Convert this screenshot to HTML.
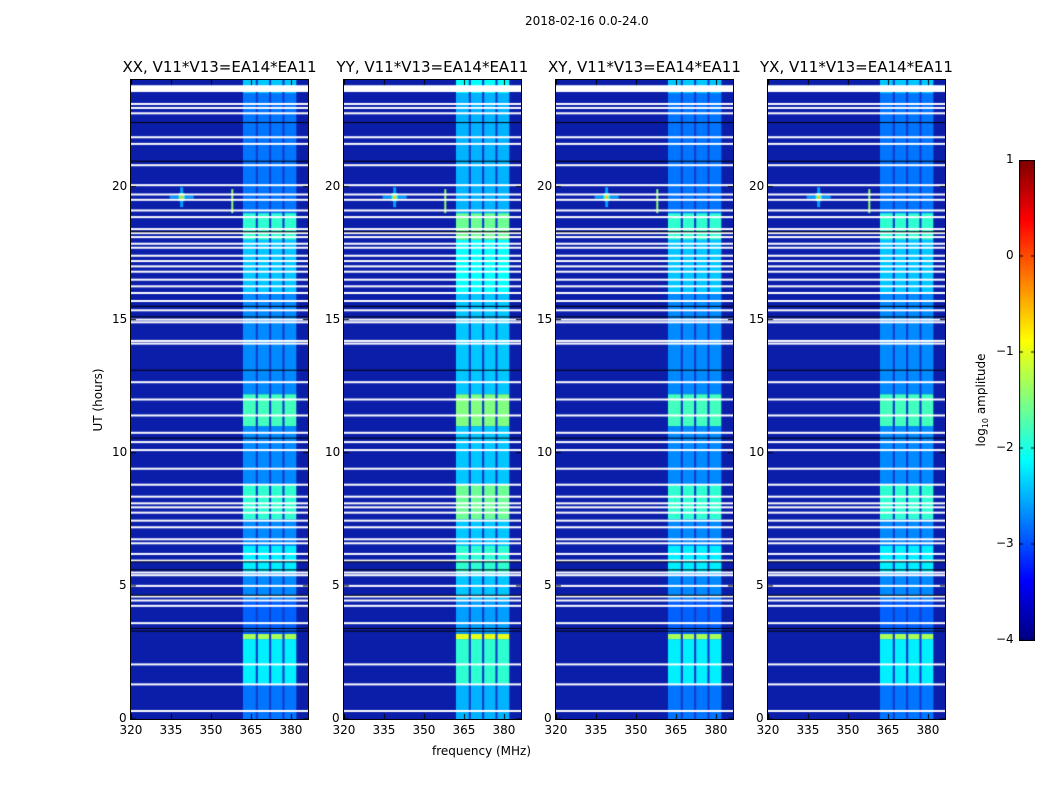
<!DOCTYPE html>
<html><head><meta charset="utf-8">
<style>
body{margin:0;background:#fff;width:1050px;height:800px;overflow:hidden;font-family:"DejaVu Sans","Liberation Sans",sans-serif;}
#root{position:relative;width:1050px;height:800px;}
.t{position:absolute;white-space:nowrap;color:#000;}
</style></head>
<body><div id="root">
<div class="t" style="left:525px;top:14px;font-size:12px;">2018-02-16 0.0-24.0</div>
<div class="t" style="left:432px;top:744px;font-size:12px;">frequency (MHz)</div>
<div class="t" style="left:98px;top:400px;font-size:12px;transform:translate(-50%,-50%) rotate(-90deg);">UT (hours)</div>
<div class="t" style="left:982px;top:400px;font-size:12px;transform:translate(-50%,-50%) rotate(-90deg);">log<sub style="font-size:8px">10</sub> amplitude</div>
<canvas id="cb" width="16" height="481" style="position:absolute;left:1019px;top:160px;"></canvas>
</div>
<script>
// ---- data ----
const panelTitles=["XX, V11*V13=EA14*EA11","YY, V11*V13=EA14*EA11","XY, V11*V13=EA14*EA11","YX, V11*V13=EA14*EA11"];
const panelOffsets=[0,0.3,0,0];
const xTicks=[320,335,350,365,380];
const yTicks=[0,5,10,15,20];
const cbTicks=[1,0,-1,-2,-3,-4];
const bandStarts=[362,367.6,372.6,377.6];
const bandEnds=[366.8,371.8,376.8,382];
const blockStarts=[0,1.3,3.0,3.2,4.5,5.5,6.5,7.5,8.8,11,12.2,15,16,18,19,23.5];
const blockEnds=[1.3,3.0,3.2,4.5,5.5,6.5,7.5,8.8,11,12.2,15,16,18,19,23.5,24];
const blockLevels=[-2.8,-2.2,-1.3,-2.9,-2.7,-2.2,-2.7,-1.9,-2.7,-1.8,-2.7,-2.7,-2.4,-1.9,-2.8,-2.4];
const whiteHours=[23.75,23.68,23.1,22.95,22.75,21.85,21.6,20.8,20.05,19.7,19.5,19.1,18.85,18.4,18.25,18.1,17.85,17.7,17.4,17.2,17.0,16.8,16.5,16.25,16.0,15.7,15.35,15.0,14.9,14.2,14.1,12.65,12.0,11.4,10.75,10.4,10.1,9.4,8.8,8.35,8.1,7.95,7.75,7.45,7.2,6.75,6.6,6.2,5.95,5.5,5.4,5.0,4.6,4.45,4.25,3.6,2.05,1.3,0.3];
const blackHours=[22.4,20.95,18.3,15.5,15.1,13.1,10.55,5.9,5.6,4.65,3.4,3.3];
const srcFreq=339, srcHour=19.6, lineFreq=358, lineStart=19.0, lineEnd=19.9;
// ---- helpers ----
function jet(v){let t=Math.max(0,Math.min(1,(v+4)/5));const c=x=>Math.round(255*Math.max(0,Math.min(1,1.5-Math.abs(4*t-x))));return `rgb(${c(3)},${c(2)},${c(1)})`;}
const PX=[131,344,556,768],PY=80,PW=177,PH=639;
const fx=f=>(f-320)/(386.4-320)*PW;
const hy=h=>PH-h/24*PH;
const root=document.getElementById('root');
function txt(s,x,y,size,name,align){const d=document.createElement('div');d.className='t';d.textContent=s;d.style.fontSize=size+'px';d.style.top=y+'px';


root.appendChild(d);const w=d.offsetWidth;d.style.left=(align==='c'?x-w/2:align==='r'?x-w:x)+'px';return d;}
panelTitles.forEach((title,p)=>{
 const x0=PX[p],off=panelOffsets[p];
 txt(title,x0+PW/2,58,15,'panel-title-'+p,'c');
 const cv=document.createElement('canvas');cv.width=PW;cv.height=PH;
 
 
 cv.style.cssText=`position:absolute;left:${x0}px;top:${PY}px;border:1px solid #000;margin:-1px 0 0 -1px;`;
 root.appendChild(cv);const g=cv.getContext('2d');
 g.fillStyle='rgb(10,30,170)';g.fillRect(0,0,PW,PH);
 g.fillStyle='rgb(20,60,200)';g.fillRect(fx(bandStarts[0]),0,fx(bandEnds[3])-fx(bandStarts[0]),PH);
 blockStarts.forEach((s,i)=>{const y1=hy(blockEnds[i]),y2=hy(s);
  bandStarts.forEach((b,j)=>{g.fillStyle=jet(blockLevels[i]+off);g.fillRect(fx(b),y1,fx(bandEnds[j])-fx(b),y2-y1);});});
 const sx=fx(srcFreq),sy=hy(srcHour);
 g.fillStyle=jet(-2.6);g.fillRect(sx-12,sy-1.5,24,3);g.fillRect(sx-1.5,sy-10,3,20);
 g.fillStyle=jet(-1.8);g.fillRect(sx-3,sy-4,6,8);g.fillStyle=jet(-0.6);g.fillRect(sx-1,sy-2,2,4);
 g.fillStyle=jet(-1.4);g.fillRect(fx(lineFreq)-1,hy(lineEnd),2,hy(lineStart)-hy(lineEnd));
 whiteHours.forEach(h=>{g.fillStyle='#fff';g.fillRect(0,hy(h)-1,PW,2);});
 blackHours.forEach(h=>{g.fillStyle='#000';g.fillRect(0,hy(h)-0.5,PW,1);});
 g.fillStyle='#fff';g.fillRect(0,hy(23.8),PW,hy(23.55)-hy(23.8));
 g.fillStyle='#000';
 xTicks.forEach((f,i)=>{const x=Math.round(fx(f))+0.5;g.fillRect(x-0.5,0,1,5);g.fillRect(x-0.5,PH-5,1,5);
  txt(String(f),x0+fx(f),723,12,'x-tick-label-'+p+'-'+i,'c');});
 yTicks.forEach((h,i)=>{const y=hy(h);g.fillRect(0,y-0.5,5,1);g.fillRect(PW-5,y-0.5,5,1);
  txt(String(h),x0-4,PY+y-8,12,'y-tick-label-'+p+'-'+i,'r');});
});
const cb=document.getElementById('cb'),cg=cb.getContext('2d');
for(let y=0;y<481;y++){cg.fillStyle=jet(1-5*y/480);cg.fillRect(0,y,16,1);}
cg.strokeStyle='#000';cg.strokeRect(0.5,0.5,15,480);
cbTicks.forEach((v,i)=>{const y=(1-v)/5*480;cg.fillStyle='#000';cg.fillRect(0,y-0.5,4,1);cg.fillRect(12,y-0.5,4,1);
 txt(v<0?'\u2212'+(-v):String(v),1014,160+y-8,12,'colorbar-tick-'+i,'r');});
</script>
</body></html>
